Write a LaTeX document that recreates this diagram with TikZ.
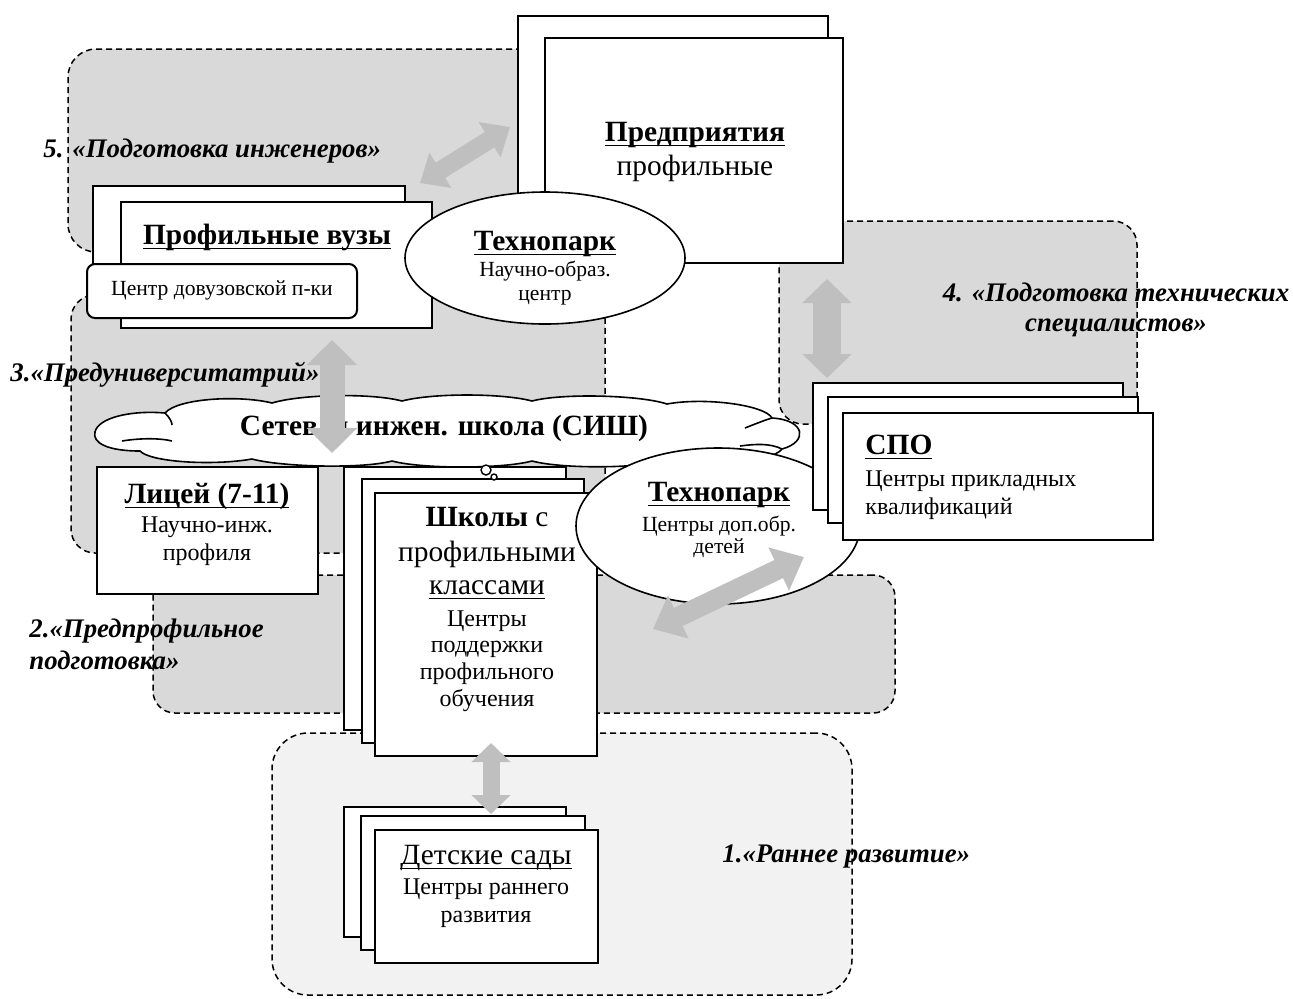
\documentclass[tikz,border=0pt]{standalone}
\usepackage{fontspec}
\setmainfont{Liberation Serif}
\usetikzlibrary{shapes.geometric,fit,arrows.meta}
\definecolor{zonegray}{HTML}{D9D9D9}
\definecolor{zonelight}{HTML}{F2F2F2}
\definecolor{arrowgray}{HTML}{BFBFBF}
\newcommand\ulthick[2][0.9pt]{\leavevmode\setbox0=\hbox{#2}\rlap{\rule[-2.4pt]{\wd0}{#1}}\box0}
\newcommand\fbig{\fontsize{14.7pt}{17pt}\selectfont}
\newcommand\fmed{\fontsize{12pt}{14pt}\selectfont}
\newcommand\fsml{\fontsize{10.8pt}{12.5pt}\selectfont}
\newcommand\flab{\fontsize{13.4pt}{16pt}\selectfont\bfseries\itshape}
\tikzset{
  box/.style={draw, line width=1pt, fill=white, inner sep=0pt},
  zone/.style={draw, dash pattern=on 3pt off 2pt, line width=0.75pt, fill=zonegray, inner sep=0pt, rounded corners=#1},
  zone/.default=12pt,
  txt/.style={inner sep=0pt, anchor=mid},
  txtl/.style={inner sep=0pt, anchor=mid west},
  oval/.style={ellipse, draw, fill=white, line width=0.8pt, inner sep=0pt},
  garrow/.style n args={3}{draw=arrowgray, line width=#1, line cap=butt,
     arrows={Triangle[length=#3,width=#2]-Triangle[length=#3,width=#2]}},
  lab/.style={inner sep=0pt, font=\flab},
  cloudline/.style={draw, line width=0.8pt},
}
\begin{document}
\begin{tikzpicture}[x=0.5pt,y=-0.5pt]
\fill[white] (0,0) rectangle (1293,998);
\useasboundingbox (0,0) rectangle (1293,998);
% zones
\node[zone=14pt, fit={(68,49)(700,252)}] (z5) {};
\node[zone=12pt, fit={(71,295)(605,553)}] (z3) {};
\node[zone=12pt, fit={(779,221)(1137,424)}] (z4) {};
\node[zone=11pt, fit={(153,575)(895,713)}] (z2) {};
\node[zone=18pt, fill=zonelight, fit={(272,733)(852,995)}] (z1) {};
% Predpriyatiya
\node[box, fit={(518,16)(828,240)}] (pr1) {};
\node[box, fit={(545,38)(843,263)}] (pr2) {};
\node[txt, font=\fbig\bfseries] (prT1) at (695,137) {\ulthick{Предприятия}};
\node[txt, font=\fbig] (prT2) at (695,171) {профильные};
% vuzy
\node[box, fit={(93,186)(405,310)}] (vz1) {};
\node[box, fit={(121,202)(432,328)}] (vz2) {};
\node[txt, font=\fbig\bfseries] (vzT) at (267,240) {\ulthick{Профильные вузы}};
\node[box, rounded corners=4pt, fit={(87,264)(357,318)}] (dovuz) {};
\node[txt, font=\fsml] (dovuzT) at (222,291) {Центр довузовской п-ки};
% top technopark
\node[oval, minimum width=140pt, minimum height=66pt] (tpA) at (545,258) {};
\node[txt, font=\fbig\bfseries] (tpA1) at (545,246) {\ulthick{Технопарк}};
\node[txt, font=\fsml] (tpA2) at (545,272) {Научно-образ.};
\node[txt, font=\fsml] (tpA3) at (545,296) {центр};
% arrow 5
\coordinate (a5s) at (420,183);
\coordinate (a5e) at (510,127);
\draw[garrow={9pt}{20pt}{12pt}] (a5s) -- (a5e);
% lyceum
\node[box, fit={(97,467)(318,594)}] (lyc) {};
\node[txt, font=\fbig\bfseries] (lycT1) at (207,499) {\ulthick{Лицей (7-11)}};
\node[txt, font=\fmed] (lycT2) at (207,528) {Научно-инж.};
\node[txt, font=\fmed] (lycT3) at (207,556) {профиля};
% arrow 4
\coordinate (a4s) at (827,279);
\coordinate (a4e) at (827,378);
\draw[garrow={14pt}{24pt}{12pt}] (a4s) -- (a4e);
% cloud
\path[cloudline, fill=white]
  (95,432) .. controls (98,418) and (130,410) .. (165,413)
  .. controls (178,398) and (240,395) .. (272,403)
  .. controls (302,394) and (372,393) .. (402,401)
  .. controls (432,393) and (502,393) .. (532,401)
  .. controls (562,393) and (640,395) .. (667,404)
  .. controls (705,397) and (765,405) .. (772,418)
  .. controls (806,420) and (808,442) .. (782,449)
  .. controls (772,463) and (702,466) .. (672,459)
  .. controls (642,469) and (562,469) .. (532,461)
  .. controls (502,469) and (422,469) .. (392,461)
  .. controls (362,469) and (282,467) .. (252,459)
  .. controls (212,466) and (150,462) .. (140,451)
  .. controls (108,451) and (92,443) .. (95,432) -- cycle;
\draw[cloudline] (122,441) .. controls (140,438) and (160,438) .. (172,441);
\draw[cloudline] (165,413) .. controls (170,418) and (172,422) .. (172,425);
\draw[cloudline] (740,446) .. controls (755,444) and (770,443) .. (782,449);
\draw[cloudline] (745,428) .. controls (755,424) and (765,420) .. (772,418);
\node[txt, font=\fbig\bfseries] (sish) at (444,431) {Сетевая инжен. школа (СИШ)};
\coordinate (a3s) at (332,340);
\coordinate (a3e) at (332,453);
\draw[garrow={12.5pt}{24.5pt}{12.5pt}] (a3s) -- (a3e);
% schools
\node[box, fit={(344,467)(566,730)}] (sh1) {};
\node[box, fit={(362,479)(584,743)}] (sh2) {};
\node[box, fit={(375,493)(597,756)}] (sh3) {};
\node[circle, draw, fill=white, line width=0.7pt, minimum size=5pt, inner sep=0pt] (tb1) at (486,470) {};
\node[circle, draw, fill=white, line width=0.7pt, minimum size=3pt, inner sep=0pt] (tb2) at (494,477) {};
\node[txt, font=\fbig] (shT1) at (487,522) {\textbf{Школы} с};
\node[txt, font=\fbig] (shT2) at (487,557) {профильными};
\node[txt, font=\fbig] (shT3) at (487,590) {\ulthick[0.7pt]{классами}};
\node[txt, font=\fmed] (shT4) at (487,622) {Центры};
\node[txt, font=\fmed] (shT5) at (487,648) {поддержки};
\node[txt, font=\fmed] (shT6) at (487,675) {профильного};
\node[txt, font=\fmed] (shT7) at (487,702) {обучения};
% bottom technopark
\node[oval, minimum width=142pt, minimum height=78pt] (tpB) at (718,526) {};
\node[txt, font=\fbig\bfseries] (tpB1) at (719,497) {\ulthick{Технопарк}};
\node[txt, font=\fsml] (tpB2) at (719,527) {Центры доп.обр.};
\node[txt, font=\fsml] (tpB3) at (719,549) {детей};
% SPO
\node[box, fit={(813,383)(1123,510)}] (spo1) {};
\node[box, fit={(828,397)(1138,523)}] (spo2) {};
\node[box, fit={(843,413)(1153,540)}] (spo3) {};
\node[txtl, font=\fbig\bfseries] (spoT1) at (865,450) {\ulthick{СПО}};
\node[txtl, font=\fmed] (spoT2) at (865,482) {Центры прикладных};
\node[txtl, font=\fmed] (spoT3) at (865,510) {квалификаций};
% arrow 2
\coordinate (a2s) at (653,629);
\coordinate (a2e) at (804,557);
\draw[garrow={10pt}{23pt}{14pt}] (a2s) -- (a2e);
% kindergartens
\node[box, fit={(344,807)(566,937)}] (ds1) {};
\node[box, fit={(361,816)(585,950)}] (ds2) {};
\node[box, fit={(375,830)(598,963)}] (ds3) {};
\node[txt, font=\fbig] (dsT1) at (486,860) {\ulthick[0.7pt]{Детские сады}};
\node[txt, font=\fmed] (dsT2) at (486,890) {Центры раннего};
\node[txt, font=\fmed] (dsT3) at (486,918) {развития};
\coordinate (a1s) at (491,743);
\coordinate (a1e) at (491,814);
\draw[garrow={8.5pt}{19pt}{9.5pt}] (a1s) -- (a1e);
% labels
\node[lab, anchor=mid west] (l5) at (43,153) {5. «Подготовка инженеров»};
\node[lab, anchor=mid west] (l3) at (10,377) {3.«Предуниверситатрий»};
\node[lab, anchor=mid] (l4a) at (1116,297) {4. «Подготовка технических};
\node[lab, anchor=mid] (l4b) at (1116,327) {специалистов»};
\node[lab, anchor=mid west] (l2a) at (29,633) {2.«Предпрофильное};
\node[lab, anchor=mid west] (l2b) at (29,665) {подготовка»};
\node[lab, anchor=mid west] (l1) at (722,858) {1.«Раннее развитие»};
\end{tikzpicture}
\end{document}
